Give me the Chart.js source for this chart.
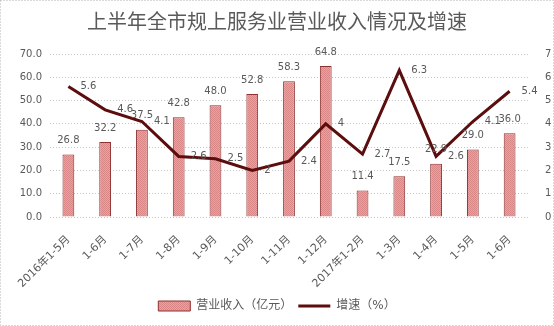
<!DOCTYPE html>
<html>
<head>
<meta charset="utf-8">
<script src="https://cdn.jsdelivr.net/npm/chart.js@4"></script>
<style>
	body { margin: 0; background: #fff; }
	canvas { display: block; }
</style>
</head>
<body>
<canvas id="bar-linecanvas" width="554" height="326"></canvas>
<script>
	// months (cumulative periods)
	var months = ["2016年1-5月", "1-6月", "1-7月", "1-8月", "1-9月", "1-10月", "1-11月", "1-12月",
		"2017年1-2月", "1-3月", "1-4月", "1-5月", "1-6月"];
	// revenue, 100 million yuan
	var revenue = [26.8, 32.2, 37.5, 42.8, 48.0, 52.8, 58.3, 64.8, 11.4, 17.5, 22.9, 29.0, 36.0];
	// growth rate, %
	var growth = [5.6, 4.6, 4.1, 2.6, 2.5, 2, 2.4, 4, 2.7, 6.3, 2.6, 4.1, 5.4];

	var leftTicks = { min: 0, max: 70, step: 10 };
	var rightTicks = { min: 0, max: 7, step: 1 };

	var fontFamily = "'DejaVu Sans', 'Noto Sans CJK SC', sans-serif";
	var textColor = "#595959";

	// dotted pink fill for the bars
	function makePattern() {
		var c = document.createElement("canvas");
		c.width = 2;
		c.height = 2;
		var g = c.getContext("2d");
		g.fillStyle = "#e6a3a3";
		g.fillRect(0, 0, 2, 2);
		g.fillStyle = "#d98686";
		g.fillRect(0, 0, 1, 1);
		g.fillRect(1, 1, 1, 1);
		return g.createPattern(c, "repeat");
	}

	// value labels: above bars, right of line points
	var valueLabels = {
		id: "valueLabels",
		afterDatasetsDraw: function(chart) {
			var ctx = chart.ctx;
			ctx.save();
			ctx.font = "10px " + fontFamily;
			ctx.fillStyle = textColor;
			var bars = chart.getDatasetMeta(0).data;
			ctx.textAlign = "center";
			ctx.textBaseline = "middle";
			for (var i = 0; i < bars.length; i++) {
				ctx.fillText(revenue[i].toFixed(1), bars[i].x, bars[i].y - 14);
			}
			var pts = chart.getDatasetMeta(1).data;
			ctx.textAlign = "left";
			for (var j = 0; j < pts.length; j++) {
				ctx.fillText(String(growth[j]), pts[j].x + 12, pts[j].y);
			}
			ctx.restore();
		}
	};

	// white background and dotted frame
	var frame = {
		id: "frame",
		beforeDraw: function(chart) {
			var ctx = chart.ctx;
			ctx.save();
			ctx.fillStyle = "#fff";
			ctx.fillRect(0, 0, chart.width, chart.height);
			ctx.strokeStyle = "#b4b4b4";
			ctx.lineWidth = 1;
			ctx.setLineDash([1, 2]);
			ctx.strokeRect(0.5, 0.5, chart.width - 1, chart.height - 1);
			ctx.restore();
		}
	};

	var ctx = document.getElementById("bar-linecanvas");

	var data = {
		labels: months,
		datasets: [
			{
				type: "bar",
				label: "营业收入（亿元）",
				data: revenue,
				yAxisID: "y",
				backgroundColor: makePattern(),
				borderColor: "#8e3030",
				borderWidth: 1,
				barPercentage: 0.32,
				categoryPercentage: 1,
				pointStyle: "rect",
				order: 2
			},
			{
				type: "line",
				label: "增速（%）",
				data: growth,
				yAxisID: "y1",
				borderColor: "#5c0d0d",
				backgroundColor: "#5c0d0d",
				borderWidth: 3,
				pointRadius: 0,
				tension: 0,
				fill: false,
				pointStyle: "line",
				order: 1
			}
		]
	};

	var options = {
		responsive: false,
		animation: false,
		layout: { padding: { left: 0, right: 0, top: 0, bottom: 4 } },
		plugins: {
			title: {
				display: true,
				text: "上半年全市规上服务业营业收入情况及增速",
				color: "#5a5a5a",
				font: { family: fontFamily, size: 20, weight: "normal" },
				padding: { top: 12, bottom: 18 }
			},
			legend: {
				display: true,
				position: "bottom",
				labels: {
					usePointStyle: true,
					pointStyleWidth: 32,
					boxHeight: 10,
					padding: 6,
					color: textColor,
					font: { family: fontFamily, size: 12 },
					sort: function(a, b) { return a.datasetIndex - b.datasetIndex; }
				}
			},
			tooltip: { enabled: false }
		},
		scales: {
			x: {
				grid: { display: false },
				border: { display: false },
				ticks: {
					color: textColor,
					font: { family: fontFamily, size: 11 },
					maxRotation: 45,
					minRotation: 45,
					autoSkip: false,
					padding: 8
				},
				afterFit: function(scale) { scale.height = 77; }
			},
			y: {
				position: "left",
				min: leftTicks.min,
				max: leftTicks.max,
				grid: { color: "#c4c4c4", lineWidth: 1, drawTicks: false },
				border: { display: false, dash: [1, 2] },
				ticks: {
					stepSize: leftTicks.step,
					color: textColor,
					font: { family: fontFamily, size: 10 },
					padding: 8,
					callback: function(v) { return v.toFixed(1); }
				},
				afterFit: function(scale) { scale.width = 50; }
			},
			y1: {
				position: "right",
				min: rightTicks.min,
				max: rightTicks.max,
				grid: { display: false },
				border: { display: false },
				ticks: {
					stepSize: rightTicks.step,
					color: textColor,
					font: { family: fontFamily, size: 10 },
					padding: 9
				},
				afterFit: function(scale) { scale.width = 26; }
			}
		}
	};

	var chart = new Chart(ctx, {
		data: data,
		options: options,
		plugins: [frame, valueLabels]
	});
</script>
</body>
</html>
